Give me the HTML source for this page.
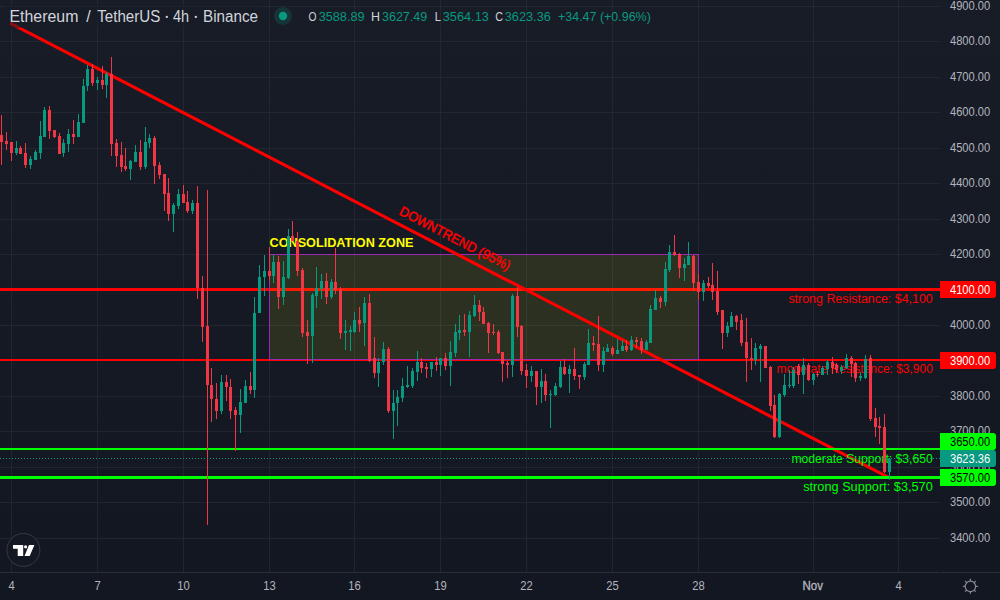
<!DOCTYPE html><html><head><meta charset="utf-8"><style>html,body{margin:0;padding:0;background:#131722;overflow:hidden}svg{display:block}text{font-family:'Liberation Sans', Arial, sans-serif}</style></head><body>
<svg width="1000" height="600" viewBox="0 0 1000 600">
<defs><linearGradient id="bg" x1="0" y1="0" x2="0" y2="572" gradientUnits="userSpaceOnUse"><stop offset="0" stop-color="#181c27"/><stop offset="1" stop-color="#131722"/></linearGradient></defs>
<rect x="0" y="0" width="1000" height="572" fill="url(#bg)"/>
<path d="M0 6.5H940 M0 41.5H940 M0 77.5H940 M0 112.5H940 M0 148.5H940 M0 183.5H940 M0 219.5H940 M0 254.5H940 M0 289.5H940 M0 325.5H940 M0 360.5H940 M0 396.5H940 M0 431.5H940 M0 467.5H940 M0 502.5H940 M0 538.5H940" stroke="rgba(42,46,57,0.6)" stroke-width="1" fill="none"/>
<path d="M11.5 0V572 M97.5 0V572 M183.5 0V572 M269.5 0V572 M354.5 0V572 M440.5 0V572 M526.5 0V572 M612.5 0V572 M698.5 0V572 M813.5 0V572 M898.5 0V572" stroke="rgba(42,46,57,0.6)" stroke-width="1" fill="none"/>
<rect x="0" y="288" width="940" height="3" fill="#ff0000"/>
<rect x="0" y="359" width="940" height="2" fill="#ff0000"/>
<rect x="269.5" y="254.5" width="429" height="105" fill="rgba(255,255,0,0.1)" stroke="#9c27b0" stroke-width="1"/>
<text x="269.5" y="246.6" font-size="13" font-weight="700" fill="#ffff00" textLength="144" lengthAdjust="spacingAndGlyphs">CONSOLIDATION ZONE</text>
<text x="932.8" y="303" font-size="12.5" fill="#ff0000" text-anchor="end" textLength="144.4" lengthAdjust="spacingAndGlyphs">strong Resistance: $4,100</text>
<text x="932.8" y="373.4" font-size="12.5" fill="#ff0000" text-anchor="end" textLength="156.2" lengthAdjust="spacingAndGlyphs">moderate Resistance: $3,900</text>
<line x1="10" y1="23.1" x2="889" y2="477.6" stroke="#ff0000" stroke-width="3.1" stroke-linecap="butt"/>
<text x="0" y="0" font-size="13.6" font-weight="400" fill="#ff0000" stroke="#ff0000" stroke-width="0.45" text-anchor="middle" textLength="123" lengthAdjust="spacingAndGlyphs" transform="translate(453,242.6) rotate(27.34)">DOWNTREND (95%)</text>
<rect x="0" y="448" width="940" height="2" fill="#00ff00"/>
<rect x="0" y="476" width="940" height="3" fill="#00ff00"/>
<text x="932.8" y="462.8" font-size="12.5" fill="#00ff00" text-anchor="end" textLength="141.4" lengthAdjust="spacingAndGlyphs">moderate Support: $3,650</text>
<text x="932.8" y="490.8" font-size="12.5" fill="#00ff00" text-anchor="end" textLength="129.6" lengthAdjust="spacingAndGlyphs">strong Support: $3,570</text>
<path d="M16 141h1V155h-1z M30 156h1V169h-1z M35 150h1V160h-1z M40 121h1V159h-1z M44 107h1V137h-1z M63 139h1V157h-1z M68 129h1V152h-1z M78 114h1V137h-1z M83 79h1V123h-1z M87 65h1V91h-1z M97 77h1V90h-1z M106 72h1V98h-1z M130 160h1V180h-1z M135 145h1V162h-1z M145 127h1V169h-1z M149 134h1V148h-1z M173 203h1V232h-1z M178 189h1V209h-1z M192 200h1V214h-1z M221 375h1V414h-1z M240 389h1V433h-1z M245 380h1V403h-1z M254 297h1V398h-1z M259 265h1V313h-1z M264 255h1V296h-1z M273 255h1V283h-1z M283 261h1V305h-1z M288 229h1V279h-1z M312 293h1V363h-1z M316 267h1V308h-1z M321 274h1V299h-1z M331 279h1V299h-1z M345 320h1V350h-1z M350 326h1V351h-1z M354 312h1V333h-1z M364 297h1V346h-1z M378 358h1V387h-1z M383 342h1V365h-1z M393 390h1V439h-1z M397 390h1V426h-1z M402 378h1V402h-1z M407 366h1V388h-1z M412 368h1V388h-1z M417 351h1V381h-1z M431 362h1V377h-1z M440 358h1V376h-1z M450 341h1V386h-1z M455 324h1V357h-1z M459 315h1V340h-1z M469 311h1V357h-1z M474 295h1V317h-1z M512 294h1V377h-1z M531 366h1V382h-1z M541 369h1V403h-1z M550 390h1V428h-1z M555 383h1V396h-1z M560 361h1V388h-1z M569 365h1V393h-1z M584 362h1V380h-1z M588 329h1V365h-1z M603 347h1V372h-1z M607 344h1V352h-1z M617 339h1V354h-1z M622 340h1V351h-1z M631 336h1V351h-1z M646 340h1V350h-1z M650 305h1V343h-1z M655 290h1V310h-1z M665 262h1V306h-1z M669 245h1V272h-1z M684 258h1V281h-1z M688 242h1V265h-1z M703 280h1V301h-1z M727 322h1V337h-1z M731 312h1V327h-1z M755 343h1V365h-1z M760 344h1V382h-1z M779 393h1V438h-1z M784 374h1V397h-1z M789 370h1V388h-1z M793 367h1V388h-1z M803 358h1V394h-1z M813 373h1V385h-1z M822 366h1V375h-1z M827 360h1V375h-1z M841 365h1V374h-1z M846 354h1V369h-1z M860 372h1V381h-1z M865 355h1V379h-1z M889 458h1V480h-1z M15 148h3V153h-3z M29 159h3V165h-3z M34 152h3V160h-3z M39 136h3V153h-3z M43 110h3V137h-3z M62 143h3V153h-3z M67 134h3V144h-3z M77 122h3V137h-3z M82 86h3V123h-3z M86 69h3V86h-3z M96 80h3V83h-3z M105 74h3V85h-3z M129 161h3V169h-3z M134 152h3V162h-3z M144 142h3V167h-3z M148 138h3V143h-3z M172 205h3V214h-3z M177 194h3V206h-3z M191 203h3V211h-3z M220 382h3V411h-3z M239 402h3V415h-3z M244 386h3V403h-3z M253 313h3V390h-3z M258 277h3V313h-3z M263 271h3V277h-3z M272 262h3V276h-3z M282 277h3V297h-3z M287 236h3V278h-3z M311 295h3V336h-3z M315 288h3V296h-3z M320 281h3V289h-3z M330 282h3V297h-3z M344 331h3V333h-3z M349 330h3V332h-3z M353 320h3V332h-3z M363 303h3V323h-3z M377 362h3V373h-3z M382 349h3V362h-3z M392 403h3V411h-3z M396 397h3V403h-3z M401 386h3V398h-3z M406 385h3V387h-3z M411 371h3V386h-3z M416 362h3V372h-3z M430 362h3V369h-3z M439 358h3V365h-3z M449 352h3V366h-3z M454 332h3V353h-3z M458 330h3V333h-3z M468 315h3V332h-3z M473 305h3V316h-3z M511 296h3V365h-3z M530 371h3V376h-3z M540 381h3V387h-3z M549 394h3V395h-3z M554 386h3V395h-3z M559 367h3V387h-3z M568 369h3V374h-3z M583 364h3V377h-3z M587 343h3V365h-3z M602 351h3V365h-3z M606 348h3V352h-3z M616 350h3V354h-3z M621 346h3V351h-3z M630 340h3V350h-3z M645 342h3V350h-3z M649 309h3V343h-3z M654 298h3V310h-3z M664 269h3V302h-3z M668 252h3V270h-3z M683 264h3V268h-3z M687 256h3V265h-3z M702 283h3V292h-3z M726 326h3V333h-3z M730 316h3V327h-3z M754 348h3V360h-3z M759 346h3V349h-3z M778 394h3V437h-3z M783 385h3V395h-3z M788 385h3V386h-3z M792 370h3V386h-3z M802 365h3V375h-3z M812 374h3V380h-3z M821 368h3V375h-3z M826 362h3V369h-3z M840 367h3V371h-3z M845 358h3V368h-3z M859 376h3V378h-3z M864 359h3V378h-3z M888 459h3V472h-3z" fill="#089981"/>
<path d="M1 115h1V165h-1z M6 132h1V150h-1z M11 142h1V161h-1z M20 146h1V154h-1z M25 143h1V168h-1z M49 106h1V139h-1z M54 130h1V138h-1z M59 133h1V154h-1z M73 120h1V144h-1z M92 64h1V86h-1z M102 66h1V89h-1z M111 57h1V156h-1z M116 139h1V167h-1z M121 142h1V172h-1z M125 148h1V171h-1z M140 140h1V170h-1z M154 136h1V184h-1z M159 162h1V179h-1z M164 174h1V211h-1z M168 178h1V221h-1z M183 185h1V203h-1z M187 191h1V213h-1z M197 186h1V299h-1z M202 276h1V342h-1z M207 190h1V525h-1z M211 368h1V422h-1z M216 383h1V419h-1z M226 375h1V401h-1z M230 379h1V419h-1z M235 407h1V451h-1z M250 372h1V394h-1z M269 247h1V281h-1z M278 256h1V309h-1z M292 221h1V241h-1z M297 232h1V276h-1z M302 268h1V337h-1z M307 320h1V364h-1z M326 273h1V304h-1z M335 248h1V294h-1z M340 287h1V339h-1z M359 307h1V332h-1z M369 294h1V362h-1z M374 337h1V378h-1z M388 347h1V413h-1z M421 358h1V373h-1z M426 363h1V378h-1z M436 357h1V371h-1z M445 353h1V370h-1z M464 314h1V336h-1z M479 300h1V321h-1z M483 307h1V324h-1z M488 322h1V353h-1z M493 324h1V335h-1z M498 330h1V354h-1z M502 352h1V382h-1z M507 361h1V378h-1z M517 287h1V337h-1z M521 325h1V375h-1z M526 364h1V388h-1z M536 371h1V405h-1z M545 374h1V401h-1z M564 359h1V375h-1z M574 348h1V380h-1z M579 375h1V389h-1z M593 336h1V351h-1z M598 316h1V371h-1z M612 346h1V356h-1z M626 340h1V352h-1z M636 337h1V348h-1z M641 338h1V354h-1z M660 296h1V308h-1z M674 235h1V256h-1z M679 253h1V278h-1z M693 255h1V291h-1z M698 274h1V300h-1z M708 277h1V288h-1z M712 263h1V300h-1z M717 271h1V315h-1z M722 310h1V349h-1z M736 315h1V330h-1z M741 314h1V346h-1z M746 318h1V382h-1z M751 338h1V370h-1z M765 346h1V368h-1z M770 366h1V411h-1z M774 395h1V438h-1z M798 364h1V384h-1z M808 363h1V381h-1z M817 371h1V377h-1z M832 357h1V374h-1z M836 363h1V373h-1z M851 356h1V377h-1z M855 362h1V382h-1z M870 355h1V421h-1z M875 408h1V437h-1z M879 417h1V444h-1z M884 414h1V473h-1z M0 135h3V142h-3z M5 141h3V144h-3z M10 142h3V153h-3z M19 148h3V154h-3z M24 153h3V165h-3z M48 110h3V131h-3z M53 130h3V137h-3z M58 136h3V154h-3z M72 134h3V137h-3z M91 69h3V83h-3z M101 80h3V85h-3z M110 74h3V144h-3z M115 143h3V156h-3z M120 155h3V167h-3z M124 166h3V169h-3z M139 152h3V167h-3z M153 138h3V166h-3z M158 165h3V175h-3z M163 174h3V194h-3z M167 193h3V214h-3z M182 194h3V203h-3z M186 202h3V211h-3z M196 203h3V288h-3z M201 288h3V327h-3z M206 326h3V385h-3z M210 385h3V399h-3z M215 399h3V411h-3z M225 382h3V387h-3z M229 387h3V411h-3z M234 410h3V415h-3z M249 386h3V390h-3z M268 271h3V276h-3z M277 262h3V297h-3z M291 236h3V241h-3z M296 241h3V271h-3z M301 270h3V333h-3z M306 332h3V336h-3z M325 281h3V297h-3z M334 282h3V290h-3z M339 289h3V333h-3z M358 320h3V324h-3z M368 303h3V361h-3z M373 358h3V373h-3z M387 349h3V411h-3z M420 362h3V368h-3z M425 367h3V369h-3z M435 362h3V365h-3z M444 358h3V366h-3z M463 330h3V332h-3z M478 305h3V312h-3z M482 312h3V324h-3z M487 323h3V333h-3z M492 332h3V333h-3z M497 332h3V353h-3z M501 352h3V364h-3z M506 363h3V365h-3z M516 296h3V327h-3z M520 326h3V371h-3z M525 370h3V376h-3z M535 371h3V387h-3z M544 381h3V395h-3z M563 367h3V374h-3z M573 369h3V376h-3z M578 375h3V377h-3z M592 343h3V345h-3z M597 344h3V365h-3z M611 348h3V354h-3z M625 346h3V350h-3z M635 340h3V342h-3z M640 341h3V350h-3z M659 298h3V302h-3z M673 252h3V255h-3z M678 254h3V268h-3z M692 256h3V283h-3z M697 282h3V292h-3z M707 283h3V286h-3z M711 285h3V292h-3z M716 291h3V312h-3z M721 310h3V333h-3z M735 316h3V322h-3z M740 320h3V343h-3z M745 342h3V358h-3z M750 358h3V360h-3z M764 346h3V368h-3z M769 367h3V406h-3z M773 405h3V437h-3z M797 366h3V375h-3z M807 365h3V380h-3z M816 374h3V375h-3z M831 362h3V368h-3z M835 365h3V370h-3z M850 358h3V364h-3z M854 363h3V378h-3z M869 358h3V419h-3z M874 418h3V427h-3z M878 426h3V428h-3z M883 427h3V472h-3z" fill="#f23645"/>
<line x1="0" y1="458.5" x2="940" y2="458.5" stroke="#089981" stroke-width="1" stroke-dasharray="1 2"/>
<rect x="4" y="4" width="258" height="24" rx="4" fill="rgba(24,28,39,0.5)"/>
<text x="9.4" y="21.8" font-size="16" fill="#d1d4dc" textLength="69.0" lengthAdjust="spacingAndGlyphs">Ethereum</text>
<text x="86.2" y="21.8" font-size="16" fill="#d1d4dc">/</text>
<text x="97.2" y="21.8" font-size="16" fill="#d1d4dc" textLength="63.1" lengthAdjust="spacingAndGlyphs">TetherUS</text>
<text x="172.9" y="21.8" font-size="16" fill="#d1d4dc" textLength="16.1" lengthAdjust="spacingAndGlyphs">4h</text>
<text x="203" y="21.8" font-size="16" fill="#d1d4dc" textLength="55" lengthAdjust="spacingAndGlyphs">Binance</text>
<rect x="165.8" y="15.9" width="2" height="2" fill="#d1d4dc"/>
<rect x="194.8" y="15.9" width="2" height="2" fill="#d1d4dc"/>
<circle cx="283" cy="16" r="9" fill="rgba(8,153,129,0.2)"/>
<circle cx="283" cy="16" r="4.2" fill="#089981"/>
<text x="308.5" y="21.2" font-size="13.2" fill="#d1d4dc" textLength="8.0" lengthAdjust="spacingAndGlyphs">O</text>
<text x="318.7" y="21.2" font-size="13.2" fill="#089981" textLength="45.9" lengthAdjust="spacingAndGlyphs">3588.89</text>
<text x="371" y="21.2" font-size="13.2" fill="#d1d4dc" textLength="9.0" lengthAdjust="spacingAndGlyphs">H</text>
<text x="382" y="21.2" font-size="13.2" fill="#089981" textLength="45.2" lengthAdjust="spacingAndGlyphs">3627.49</text>
<text x="434.8" y="21.2" font-size="13.2" fill="#d1d4dc" textLength="6.2" lengthAdjust="spacingAndGlyphs">L</text>
<text x="442.8" y="21.2" font-size="13.2" fill="#089981" textLength="46.0" lengthAdjust="spacingAndGlyphs">3564.13</text>
<text x="495.2" y="21.2" font-size="13.2" fill="#d1d4dc" textLength="7.8" lengthAdjust="spacingAndGlyphs">C</text>
<text x="504.8" y="21.2" font-size="13.2" fill="#089981" textLength="46.0" lengthAdjust="spacingAndGlyphs">3623.36</text>
<text x="558" y="21.2" font-size="13.2" fill="#089981" textLength="92.8" lengthAdjust="spacingAndGlyphs">+34.47 (+0.96%)</text>
<text x="950" y="9.8" font-size="12.8" fill="#b2b5be" textLength="40.2" lengthAdjust="spacingAndGlyphs">4900.00</text>
<text x="950" y="44.8" font-size="12.8" fill="#b2b5be" textLength="40.2" lengthAdjust="spacingAndGlyphs">4800.00</text>
<text x="950" y="80.8" font-size="12.8" fill="#b2b5be" textLength="40.2" lengthAdjust="spacingAndGlyphs">4700.00</text>
<text x="950" y="115.8" font-size="12.8" fill="#b2b5be" textLength="40.2" lengthAdjust="spacingAndGlyphs">4600.00</text>
<text x="950" y="151.8" font-size="12.8" fill="#b2b5be" textLength="40.2" lengthAdjust="spacingAndGlyphs">4500.00</text>
<text x="950" y="186.8" font-size="12.8" fill="#b2b5be" textLength="40.2" lengthAdjust="spacingAndGlyphs">4400.00</text>
<text x="950" y="222.8" font-size="12.8" fill="#b2b5be" textLength="40.2" lengthAdjust="spacingAndGlyphs">4300.00</text>
<text x="950" y="257.8" font-size="12.8" fill="#b2b5be" textLength="40.2" lengthAdjust="spacingAndGlyphs">4200.00</text>
<text x="950" y="292.8" font-size="12.8" fill="#b2b5be" textLength="40.2" lengthAdjust="spacingAndGlyphs">4100.00</text>
<text x="950" y="328.8" font-size="12.8" fill="#b2b5be" textLength="40.2" lengthAdjust="spacingAndGlyphs">4000.00</text>
<text x="950" y="363.8" font-size="12.8" fill="#b2b5be" textLength="40.2" lengthAdjust="spacingAndGlyphs">3900.00</text>
<text x="950" y="399.8" font-size="12.8" fill="#b2b5be" textLength="40.2" lengthAdjust="spacingAndGlyphs">3800.00</text>
<text x="950" y="434.8" font-size="12.8" fill="#b2b5be" textLength="40.2" lengthAdjust="spacingAndGlyphs">3700.00</text>
<text x="950" y="470.8" font-size="12.8" fill="#b2b5be" textLength="40.2" lengthAdjust="spacingAndGlyphs">3600.00</text>
<text x="950" y="505.8" font-size="12.8" fill="#b2b5be" textLength="40.2" lengthAdjust="spacingAndGlyphs">3500.00</text>
<text x="950" y="541.8" font-size="12.8" fill="#b2b5be" textLength="40.2" lengthAdjust="spacingAndGlyphs">3400.00</text>
<path d="M940 281H993a3 3 0 0 1 3 3V295a3 3 0 0 1 -3 3H940Z" fill="#ff0000"/>
<text x="950" y="293.5" font-size="12.8" fill="#ffffff" textLength="40.2" lengthAdjust="spacingAndGlyphs">4100.00</text>
<path d="M940 352H993a3 3 0 0 1 3 3V366a3 3 0 0 1 -3 3H940Z" fill="#ff0000"/>
<text x="950" y="364.5" font-size="12.8" fill="#ffffff" textLength="40.2" lengthAdjust="spacingAndGlyphs">3900.00</text>
<path d="M940 433H993a3 3 0 0 1 3 3V447a3 3 0 0 1 -3 3H940Z" fill="#00ff00"/>
<text x="950" y="445.5" font-size="12.8" fill="#000000" textLength="40.2" lengthAdjust="spacingAndGlyphs">3650.00</text>
<path d="M940 450H993a3 3 0 0 1 3 3V464a3 3 0 0 1 -3 3H940Z" fill="#089981"/>
<text x="950" y="462.5" font-size="12.8" fill="#ffffff" textLength="40.2" lengthAdjust="spacingAndGlyphs">3623.36</text>
<path d="M940 469H993a3 3 0 0 1 3 3V483a3 3 0 0 1 -3 3H940Z" fill="#00ff00"/>
<text x="950" y="481.5" font-size="12.8" fill="#000000" textLength="40.2" lengthAdjust="spacingAndGlyphs">3570.00</text>
<rect x="0" y="572" width="1000" height="28" fill="#131722"/>
<path d="M0 572.5H940M941 572.5H1000" stroke="#2a2e39" stroke-width="1"/>
<text x="11.5" y="590.2" font-size="12.4" fill="#b2b5be" text-anchor="middle" textLength="6.25" lengthAdjust="spacingAndGlyphs">4</text>
<text x="97.5" y="590.2" font-size="12.4" fill="#b2b5be" text-anchor="middle" textLength="6.25" lengthAdjust="spacingAndGlyphs">7</text>
<text x="183.5" y="590.2" font-size="12.4" fill="#b2b5be" text-anchor="middle" textLength="12.50" lengthAdjust="spacingAndGlyphs">10</text>
<text x="269.5" y="590.2" font-size="12.4" fill="#b2b5be" text-anchor="middle" textLength="12.50" lengthAdjust="spacingAndGlyphs">13</text>
<text x="354.5" y="590.2" font-size="12.4" fill="#b2b5be" text-anchor="middle" textLength="12.50" lengthAdjust="spacingAndGlyphs">16</text>
<text x="440.5" y="590.2" font-size="12.4" fill="#b2b5be" text-anchor="middle" textLength="12.50" lengthAdjust="spacingAndGlyphs">19</text>
<text x="526.5" y="590.2" font-size="12.4" fill="#b2b5be" text-anchor="middle" textLength="12.50" lengthAdjust="spacingAndGlyphs">22</text>
<text x="612.5" y="590.2" font-size="12.4" fill="#b2b5be" text-anchor="middle" textLength="12.50" lengthAdjust="spacingAndGlyphs">25</text>
<text x="698.5" y="590.2" font-size="12.4" fill="#b2b5be" text-anchor="middle" textLength="12.50" lengthAdjust="spacingAndGlyphs">28</text>
<text x="802.6" y="590.2" font-size="12.4" font-weight="400" fill="#b2b5be" textLength="20.4" lengthAdjust="spacingAndGlyphs" stroke="#b2b5be" stroke-width="0.35">Nov</text>
<text x="898.5" y="590.2" font-size="12.4" fill="#b2b5be" text-anchor="middle" textLength="6.25" lengthAdjust="spacingAndGlyphs">4</text>
<circle cx="970.4" cy="586.4" r="5.2" fill="none" stroke="#868994" stroke-width="1.2"/>
<path d="M975.70 586.30L977.90 586.30 M974.15 590.05L975.70 591.60 M970.40 591.60L970.40 593.80 M966.65 590.05L965.10 591.60 M965.10 586.30L962.90 586.30 M966.65 582.55L965.10 581.00 M970.40 581.00L970.40 578.80 M974.15 582.55L975.70 581.00" stroke="#868994" stroke-width="1.2"/>
<circle cx="23.4" cy="550" r="16.5" fill="#141823" stroke="#363a45" stroke-width="1"/>
<path d="M13 545H23.2V556H17.7V548.7H13Z M29 545H34.4L29.7 556H24.5Z" fill="#ffffff"/>
<circle cx="25.6" cy="546.8" r="1.6" fill="#ffffff"/>
</svg></body></html>
